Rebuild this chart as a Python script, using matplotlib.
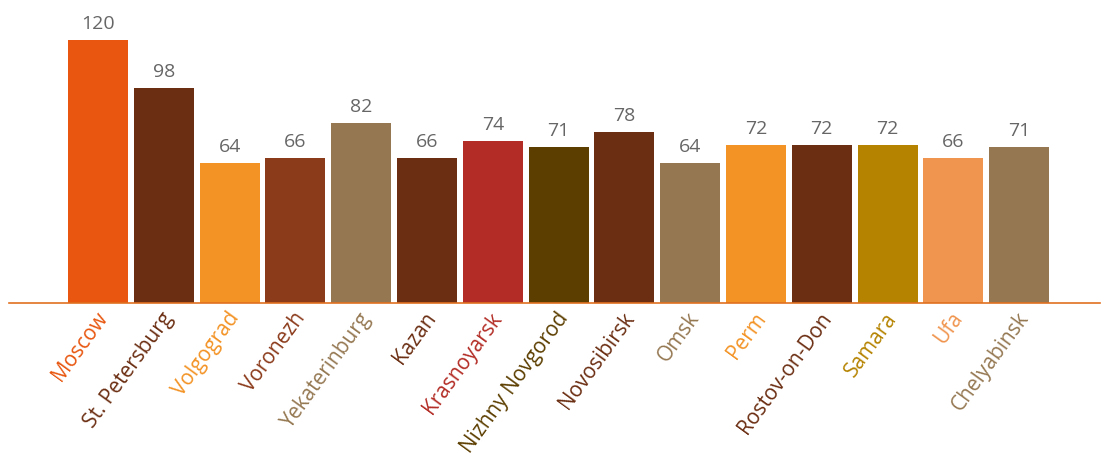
import matplotlib
matplotlib.use("Agg")
import matplotlib.pyplot as plt
import matplotlib.transforms as mtransforms

cities = ["Moscow", "St. Petersburg", "Volgograd", "Voronezh", "Yekaterinburg",
          "Kazan", "Krasnoyarsk", "Nizhny Novgorod", "Novosibirsk", "Omsk",
          "Perm", "Rostov-on-Don", "Samara", "Ufa", "Chelyabinsk"]
values = [120, 98, 64, 66, 82, 66, 74, 71, 78, 64, 72, 72, 72, 66, 71]
colors = ["#E8560F", "#6B2E12", "#F39325", "#8B3A1A", "#957852",
          "#6B2E12", "#B32D26", "#5C3E00", "#6B2E12", "#957852",
          "#F39325", "#6B2E12", "#B58300", "#F0954F", "#957852"]

plt.rcParams['font.family'] = ['Open Sans', 'DejaVu Sans']

W, H = 11.04, 4.58
fig = plt.figure(figsize=(W, H), dpi=100)
base_px = 303
ax = fig.add_axes([9 / 1104, 1 - base_px / 458, (1100 - 9) / 1104, base_px / 458])

spacing = 65.8
x0 = 98
xs = list(range(len(cities)))
ax.bar(xs, values, width=60 / spacing, color=colors, zorder=2)
ax.set_xlim((9 - x0) / spacing, (1100 - x0) / spacing)
ax.set_ylim(0, base_px / 2.1917)

for x, v in zip(xs, values):
    ax.annotate(str(v), (x, v), xytext=(0, 5), textcoords="offset points",
                ha="center", va="bottom", fontsize=14, color="#666666")

for s in ["top", "right", "left"]:
    ax.spines[s].set_visible(False)
ax.spines["bottom"].set_color("#E07020")
ax.spines["bottom"].set_linewidth(1.2)
ax.spines["bottom"].set_zorder(3)
ax.set_yticks([])
ax.set_xticks(xs)
ax.set_xticklabels(cities, rotation=54, ha="right", rotation_mode="anchor",
                   fontsize=15)
ax.tick_params(axis="x", length=0, pad=4)
offset = mtransforms.ScaledTranslation(-3 / 100, 0, fig.dpi_scale_trans)
for lbl, c in zip(ax.get_xticklabels(), colors):
    lbl.set_color(c)
    lbl.set_transform(lbl.get_transform() + offset)

fig.savefig("out.png", dpi=100)
